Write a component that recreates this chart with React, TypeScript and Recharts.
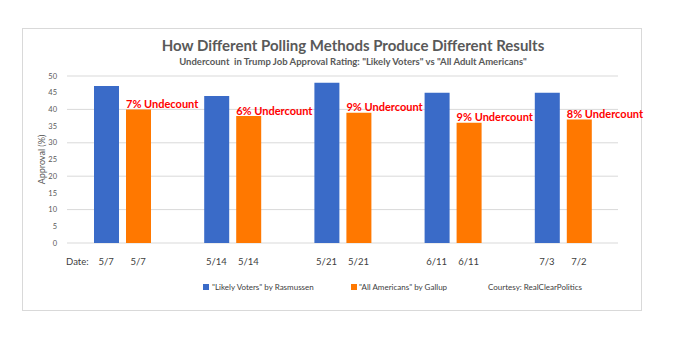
import React from "react";
import { BarChart, Bar, XAxis, YAxis, CartesianGrid, LabelList } from "recharts";

const categories = ["w1", "w2", "w3", "w4", "w5"];
const rasmussenDates = ["5/7", "5/14", "5/21", "6/11", "7/3"];
const gallupDates = ["5/7", "5/14", "5/21", "6/11", "7/2"];
const rasmussenValues = [47, 44, 48, 45, 45];
const gallupValues = [40, 38, 39, 36, 37];
const undercountLabels = ["7% Undecount", "6% Undercount", "9% Undercount", "9% Undercount", "8% Undercount"];
const yTicks = [0, 5, 10, 15, 20, 25, 30, 35, 40, 45, 50];

const data = categories.map((c, i) => ({
  cat: c,
  rasmussen: rasmussenValues[i],
  gallup: gallupValues[i],
  label: undercountLabels[i],
}));

const FONT = "Lato, 'Open Sans', sans-serif";
const BLUE = "#3A6BC8";
const ORANGE = "#FF7800";
const GRID = "#D9D9D9";
const TEXT = "#595959";

const XTick = (props: any) => {
  const { x, y, payload } = props;
  const i = payload.index;
  const ty = y + 14;
  return (
    <g fontFamily={FONT} fontSize={9.5} fill="#404040">
      {i === 0 && (
        <text x={x - 56} y={ty} textAnchor="start" fill="#404040">Date:</text>
      )}
      <text x={x - 16} y={ty} textAnchor="middle" fill="#404040">{rasmussenDates[i]}</text>
      <text x={x + 16} y={ty} textAnchor="middle" fill="#404040">{gallupDates[i]}</text>
    </g>
  );
};

const UndercountLabel = (props: any) => {
  const { x, y, index } = props;
  return (
    <text
      x={x}
      y={y - 6}
      dominantBaseline="central"
      textAnchor="start"
      fill="#FF0000"
      fontFamily={FONT}
      fontWeight={700}
      fontSize={11}
    >
      {undercountLabels[index]}
    </text>
  );
};

export default function App() {
  return (
    <div style={{ position: "absolute", left: 0, top: 0, width: 683, height: 341, background: "#fff" }}>
      <div
        style={{
          position: "absolute",
          left: 22,
          top: 28,
          width: 620,
          height: 283,
          border: "1px solid #D9D9D9",
          boxSizing: "border-box",
        }}
      />
      <div
        style={{
          position: "absolute",
          left: 0,
          width: 706,
          top: 35,
          textAlign: "center",
          fontFamily: FONT,
          fontWeight: 700,
          fontSize: 15,
          color: TEXT,
          whiteSpace: "nowrap",
          lineHeight: "20px",
        }}
      >
        How Different Polling Methods Produce Different Results
      </div>
      <div
        style={{
          position: "absolute",
          left: 0,
          width: 706,
          top: 55,
          textAlign: "center",
          fontFamily: FONT,
          fontWeight: 700,
          fontSize: 9.5,
          color: TEXT,
          whiteSpace: "pre",
          lineHeight: "14px",
        }}
      >
        {'Undercount  in Trump Job Approval Rating: "Likely Voters" vs "All Adult Americans"'}
      </div>
      <div style={{ position: "absolute", left: 0, top: 0 }}>
        <BarChart
          width={683}
          height={341}
          data={data}
          margin={{ top: 76, right: 65, left: 0, bottom: 0 }}
          barSize={25}
          barGap={7}
        >
          <CartesianGrid vertical={false} stroke={GRID} strokeWidth={1} />
          <XAxis
            dataKey="cat"
            height={98}
            axisLine={false}
            tickLine={false}
            tick={<XTick />}
            interval={0}
          />
          <YAxis
            width={67}
            domain={[0, 50]}
            ticks={yTicks}
            axisLine={false}
            tickLine={false}
            tickMargin={4}
            tick={{ fontSize: 7.5, fill: TEXT, fontFamily: FONT }}
            label={{
              value: "Approval (%)",
              angle: -90,
              position: "insideLeft",
              offset: 0,
              dx: 42,
              style: { fontSize: 9, fill: TEXT, fontFamily: FONT, textAnchor: "middle" },
            }}
          />
          <Bar dataKey="rasmussen" fill={BLUE} isAnimationActive={false} />
          <Bar dataKey="gallup" fill={ORANGE} isAnimationActive={false}>
            <LabelList dataKey="label" content={<UndercountLabel />} />
          </Bar>
        </BarChart>
      </div>
      <div
        style={{
          position: "absolute",
          top: 281,
          left: 203,
          fontFamily: FONT,
          fontSize: 8,
          color: "#404040",
          whiteSpace: "nowrap",
          lineHeight: "12px",
        }}
      >
        <span style={{ position: "absolute", left: 0, top: 3, width: 6, height: 6, background: BLUE }} />
        <span style={{ position: "absolute", left: 9, top: 0 }}>"Likely Voters" by Rasmussen</span>
        <span style={{ position: "absolute", left: 148, top: 3, width: 6, height: 6, background: ORANGE }} />
        <span style={{ position: "absolute", left: 156, top: 0 }}>"All Americans" by Gallup</span>
        <span style={{ position: "absolute", left: 285, top: 0 }}>Courtesy: RealClearPolitics</span>
      </div>
    </div>
  );
}
